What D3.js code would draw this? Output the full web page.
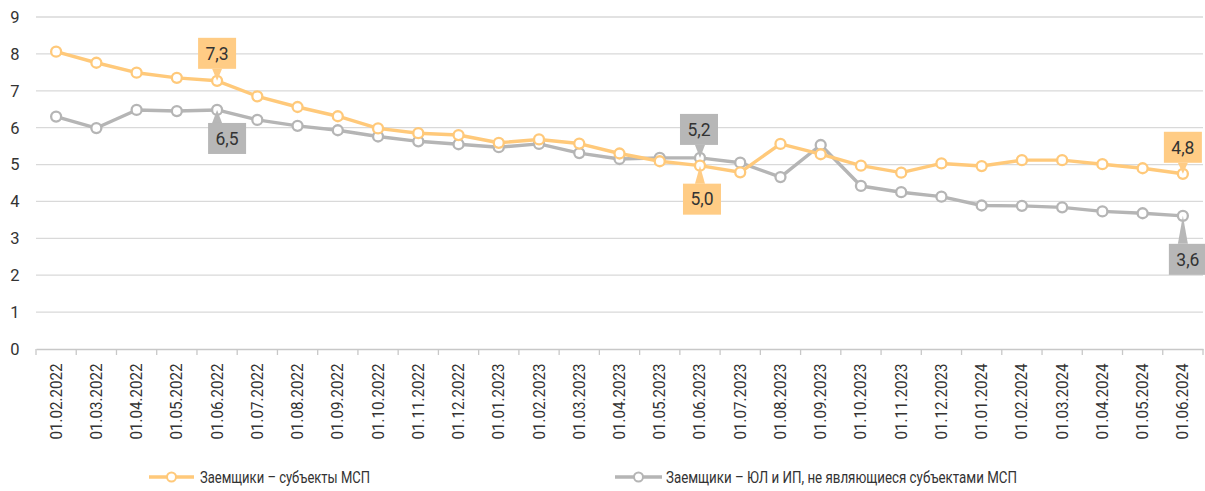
<!DOCTYPE html>
<html><head><meta charset="utf-8">
<script src="https://cdn.jsdelivr.net/npm/d3@7/dist/d3.min.js"></script>
<style>body{margin:0;background:#fff;} svg{display:block;font-family:Roboto, "Noto Sans", sans-serif;}</style>
</head><body>
<svg id="c" width="1205" height="491"></svg>
<script>
const categories = ["01.02.2022","01.03.2022","01.04.2022","01.05.2022","01.06.2022","01.07.2022","01.08.2022","01.09.2022","01.10.2022","01.11.2022","01.12.2022","01.01.2023","01.02.2023","01.03.2023","01.04.2023","01.05.2023","01.06.2023","01.07.2023","01.08.2023","01.09.2023","01.10.2023","01.11.2023","01.12.2023","01.01.2024","01.02.2024","01.03.2024","01.04.2024","01.05.2024","01.06.2024"];
const smeValues = [8.06,7.76,7.49,7.35,7.27,6.85,6.56,6.31,5.98,5.85,5.80,5.59,5.68,5.57,5.30,5.09,4.97,4.79,5.56,5.28,4.97,4.78,5.03,4.96,5.12,5.12,5.01,4.90,4.75];
const nonSmeValues = [6.30,5.99,6.48,6.45,6.48,6.21,6.05,5.93,5.76,5.63,5.55,5.47,5.56,5.31,5.15,5.18,5.18,5.05,4.66,5.53,4.42,4.25,4.13,3.89,3.88,3.84,3.73,3.68,3.61];
const seriesNames = ["Заемщики – субъекты МСП","Заемщики – ЮЛ и ИП, не являющиеся субъектами МСП"];
const yTicks = [0,1,2,3,4,5,6,7,8,9];
// callouts: series index, category index, label text
const calloutSeries = [0,1,1,0,0,1];
const calloutCats = [4,4,16,16,28,28];
const calloutTexts = ["7,3","6,5","5,2","5,0","4,8","3,6"];
// layout offsets of callout boxes relative to point (pixels)
const calloutLayout = [[-19,-43],[-9,13],[-20,-44],[-17,18],[-19,-42],[-14,28]];
const colors = ["#FFC97A","#B5B5B5"];
const boxColors = ["#FFCC85","#B7B7B7"];

const svg = d3.select("#c");
const x = d3.scaleBand().domain(categories).range([36, 1203]);
const y = d3.scaleLinear().domain([0,9]).range([349, 17]);

svg.append("g").selectAll("line").data(yTicks.filter(d=>d>0)).join("line")
  .attr("x1",36).attr("x2",1203).attr("y1",d=>y(d)).attr("y2",d=>y(d))
  .attr("stroke","#D9D9D9").attr("stroke-width",1.3);

svg.append("g").selectAll("text").data(yTicks).join("text")
  .attr("x",15).attr("y",d=>y(d)).attr("dy","0.36em").attr("text-anchor","middle")
  .attr("font-size",16.5).attr("fill","#333").text(d=>d);

const xa = svg.append("g").attr("transform","translate(0,349)")
  .call(d3.axisBottom(x).tickSize(0).tickFormat(""));
xa.select(".domain").attr("stroke","#C8C8C8").attr("stroke-width",1.3);
const edges = categories.map(c=>x(c)).concat([x.range()[1]]);
svg.append("g").selectAll("line").data(edges).join("line")
  .attr("x1",d=>d).attr("x2",d=>d).attr("y1",349).attr("y2",355)
  .attr("stroke","#C8C8C8").attr("stroke-width",1.3);
svg.append("g").selectAll("text").data(categories).join("text")
  .attr("transform",d=>`translate(${x(d)+x.bandwidth()/2+5.5},363.5) rotate(-90)`)
  .attr("text-anchor","end").attr("font-size",16).attr("fill","#333")
  .attr("textLength",76).attr("lengthAdjust","spacingAndGlyphs").text(d=>d);

const cx = c => x(c)+x.bandwidth()/2;
const allSeries = [smeValues, nonSmeValues];
[1,0].forEach(si=>{
  const vals = allSeries[si];
  const line = d3.line().x((d,i)=>cx(categories[i])).y(d=>y(d));
  svg.append("path").datum(vals).attr("d",line).attr("fill","none")
    .attr("stroke",colors[si]).attr("stroke-width",3.4).attr("stroke-linejoin","round");
  svg.append("g").selectAll("circle").data(vals).join("circle")
    .attr("cx",(d,i)=>cx(categories[i])).attr("cy",d=>y(d)).attr("r",5)
    .attr("fill","#fff").attr("stroke",colors[si]).attr("stroke-width",2.3);
});

calloutTexts.forEach((txt,k)=>{
  const si = calloutSeries[k], ci = calloutCats[k];
  const px = cx(categories[ci]), py = y(allSeries[si][ci]);
  const [dx,dy] = calloutLayout[k];
  const w = 38, h = 31;
  const bx = px+dx, by = py+dy;
  const above = dy < 0;
  const g = svg.append("g");
  const tailBase = above ? by+h : by;
  const tx = Math.min(Math.max(px, bx+7), bx+w-7);
  g.append("path").attr("d",`M${tx-5},${tailBase} L${px},${py} L${tx+5},${tailBase} Z`).attr("fill",boxColors[si]);
  g.append("rect").attr("x",bx).attr("y",by).attr("width",Math.min(w,1205-bx)).attr("height",h).attr("fill",boxColors[si]);
  g.append("text").attr("x",bx+w/2).attr("y",by+h/2).attr("dy","0.36em").attr("text-anchor","middle")
    .attr("font-size",17.5).attr("fill","#333").text(txt);
});

const legendLayout = [[149,194,200,170],[615,662,666,351]];
legendLayout.forEach(([x1,x2,tx,tl],si)=>{
  svg.append("line").attr("x1",x1).attr("x2",x2).attr("y1",477).attr("y2",477)
    .attr("stroke",colors[si]).attr("stroke-width",3.4);
  svg.append("circle").attr("cx",(x1+x2)/2).attr("cy",477).attr("r",4.5)
    .attr("fill","#fff").attr("stroke",colors[si]).attr("stroke-width",2);
  svg.append("text").attr("x",tx).attr("y",477).attr("dy","0.36em").attr("font-size",16.5)
    .attr("fill","#333").attr("textLength",tl).attr("lengthAdjust","spacingAndGlyphs").text(seriesNames[si]);
});
</script>
</body></html>
